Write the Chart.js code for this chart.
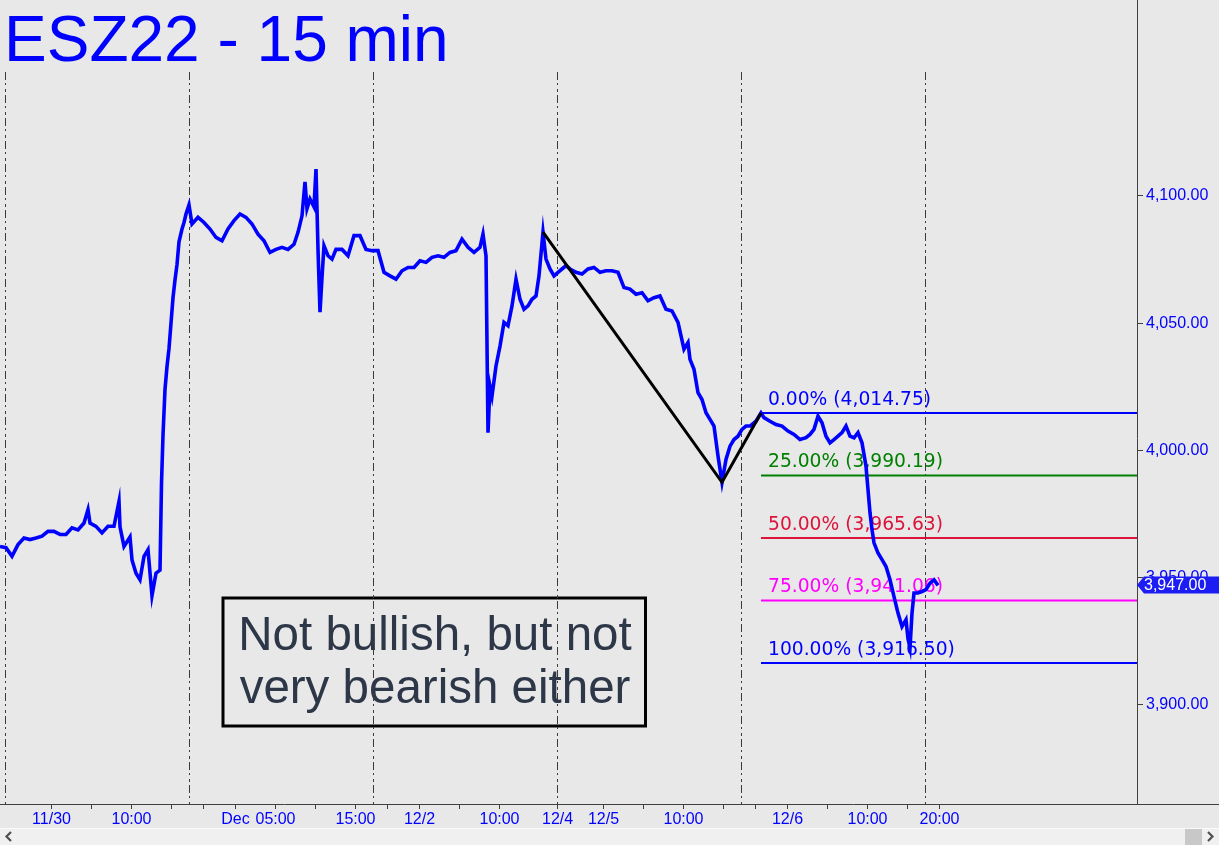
<!DOCTYPE html>
<html>
<head>
<meta charset="utf-8">
<script src="https://cdn.jsdelivr.net/npm/chart.js@4.4.0/dist/chart.umd.min.js"></script>
<style>
  html, body { margin: 0; padding: 0; background: #e8e8e8; overflow: hidden; }
  canvas { display: block; }
</style>
</head>
<body>
<canvas id="c" width="1219" height="845"></canvas>
<script>
// ---- DATA (time axis in 15-minute bars from the left edge) ----
const priceBars = [
  0,3,6,9,12,15,18,21,24,27,
  30,33,36,39,42,44,45,48,51,54,
  57,59.5,60,62,65,66,68,70,72,74,
  76,78,80,80.75,81.5,82.5,83.5,84.5,85.5,86.5,
  87.5,88.5,89.5,91,92,93,94.5,96,99,102,
  105,108,111,114,117,120,123,126,129,132,
  135,138,141,144,147,149,151,152.5,153.5,155,
  157,158,159,160,161,162,164,166,168,171,
  174,177,180,183,186,189,192,195,198,201,
  204,207,210,213,216,219,222,225,228,231,
  234,237,240,241.5,243,244,245,246,248,250,
  252,254,256,258,260,262,264,266,268,269.5,
  271.5,273,275,277,279,281,283,285,288,291,
  294,297,300,303,306,309,312,315,318,321,
  324,327,330,333,336,339,342,344,345,347,
  349,351,353,355,357,359,361,363,365,367,
  369,371,373,375,378,380.5,382,385,388,391,
  394,397,400,403,405,407,409,411,413,415,
  417,419,421,423,425,427,429,431,433,434,
  435,436,437,439,441,443,445,447,449,451,
  453,454,455,456,457,459,461,463,465,467,
  469
];
const prices = [
  3962.3,3961.8,3958.4,3963,3965.6,3965,3965.6,3966.3,3968.2,3968.2,
  3967,3967,3969.6,3968.8,3971.5,3976.8,3971.5,3970.2,3967.6,3970.2,
  3970.2,3980,3970,3962.3,3966,3957,3951.8,3949.2,3958.4,3961,
  3943,3951.8,3953,3987,4006,4024,4033,4040,4050,4060,
  4067,4073,4082,4087,4089.6,4092.9,4096.5,4089,4091.6,4089.6,
  4087,4083.7,4082.4,4087,4090.3,4092.9,4091.6,4089,4085,4082.4,
  4077.8,4079,4079.8,4079,4081,4085.7,4092.2,4105.5,4095,4098.8,
  4095.7,4110.6,4079,4054.3,4068,4080.4,4076.5,4075.2,4079,4079,
  4076.5,4084.4,4084.4,4079,4078.5,4078.5,4070,4068.6,4067.3,4070.6,
  4071.9,4071.9,4074.5,4073.9,4075.9,4076.5,4075.9,4077.8,4078.5,4083,
  4079.8,4077.8,4079.8,4085,4076.5,4007,4025.3,4021.4,4033.2,4041,
  4050.3,4049,4056.8,4067.3,4059.4,4055.5,4056.8,4059.4,4060.7,4068.6,
  4085.75,4075.2,4071.3,4068.6,4070,4071.3,4072.6,4071.3,4070,4069.3,
  4071.3,4071.9,4070,4070.6,4070.6,4070,4064,4063.4,4061.4,4062,
  4058.8,4060,4060.7,4055.5,4054.8,4050.3,4039.8,4042.4,4035.8,4031.9,
  4022.7,4020,4014.8,4012.2,4009.6,3997.8,3987.5,3996.5,4001.7,4004.3,
  4005.6,4008.3,4009.6,4009.6,4011.5,4014.75,4012.9,4011.5,4010.2,4009.6,
  4007.6,4006.3,4004.3,4005,4006.3,4008.3,4013.5,4010.9,4005.6,4003,
  4004.3,4005.6,4007,4009.6,4005.6,4005,4007,4003,3993.8,3984.6,
  3975.5,3968.9,3963.7,3959.7,3957.1,3954.4,3949.2,3942.6,3936.1,3930.8,
  3933.5,3926,3922.5,3936.1,3944,3944,3944.6,3945.3,3947.9,3949.2,
  3947
];
const lastPrice = 3947.00;

// ABC swing (black zig-zag)
const swingBars = [271.5, 361, 380.5];
const swingPrices = [4085.75, 3987.50, 4014.75];

// Fibonacci projection levels
const fibPct = ['0.00%', '25.00%', '50.00%', '75.00%', '100.00%'];
const fibLevels = [4014.75, 3990.19, 3965.63, 3941.06, 3916.50];
const fibColors = ['#0000ff', '#008000', '#dc143c', '#ff00ff', '#0000ff'];
const fibStartBar = 380.5;

// Axis data
const xMinBar = 0, xMaxBar = 568.5;
const yMin = 3861.1, yMax = 4148.7;
const yTicks = [3900, 3950, 4000, 4050, 4100];
const xTickBars = [25.75,45.75,65.75,85.75,101.75,117.75,137.75,157.75,177.75,193.75,209.75,229.75,249.75,278.8,301.75,321.75,341.75,361.75,377.75,393.75,413.75,433.75,453.75,469.75];
const xTickLabels = ['11/30','','10:00','','','Dec','05:00','','15:00','','12/2','','10:00','12/4','12/5','','10:00','','','12/6','','10:00','','20:00'];
const sessionBreaks = [2.5, 94.5, 186.5, 278.5, 370.5, 462.5];

const titleText = 'ESZ22 - 15 min';
const noteLines = ['Not bullish, but not', 'very bearish either'];

// ---- helpers ----
const fmt = v => Number(v).toLocaleString('en-US', {minimumFractionDigits: 2, maximumFractionDigits: 2});
const AXIS = '#404040';
const BLUE = '#0000ff';

const overlay = {
  id: 'overlay',
  beforeDatasetsDraw(chart) {
    const {ctx, chartArea: a, scales: {x, y}} = chart;
    ctx.save();
    // note box
    ctx.strokeStyle = '#000';
    ctx.lineWidth = 3;
    ctx.strokeRect(223, 598, 422.5, 128);
    ctx.fillStyle = '#2d3748';
    ctx.font = '47.5px "Liberation Sans", Arial, sans-serif';
    ctx.textAlign = 'center';
    ctx.textBaseline = 'alphabetic';
    ctx.fillText(noteLines[0], 435, 650);
    ctx.fillText(noteLines[1], 435, 703);
    // session separators
    ctx.strokeStyle = '#3a3a3a';
    ctx.lineWidth = 1;
    ctx.setLineDash([8, 3, 2, 4, 3, 3]);
    sessionBreaks.forEach(b => {
      const px = Math.round(x.getPixelForValue(b)) + 0.5;
      ctx.beginPath(); ctx.moveTo(px, a.top); ctx.lineTo(px, a.bottom); ctx.stroke();
    });
    ctx.setLineDash([]);
    // fib labels
    ctx.font = '18.7px "DejaVu Sans", sans-serif';
    ctx.textAlign = 'left';
    fibLevels.forEach((v, i) => {
      ctx.fillStyle = fibColors[i];
      ctx.fillText(fibPct[i] + ' (' + fmt(v) + ')', x.getPixelForValue(fibStartBar) + 7, y.getPixelForValue(v) - 8);
    });
    ctx.restore();
  },
  afterDraw(chart) {
    const {ctx, chartArea: a, scales: {x, y}} = chart;
    const W = chart.width, H = chart.height;
    ctx.save();
    // axis line extensions
    ctx.strokeStyle = AXIS; ctx.lineWidth = 1;
    ctx.beginPath(); ctx.moveTo(a.right + 0.5, 0); ctx.lineTo(a.right + 0.5, a.top); ctx.stroke();
    ctx.beginPath(); ctx.moveTo(a.right, a.bottom + 0.5); ctx.lineTo(W, a.bottom + 0.5); ctx.stroke();
    // price tag
    const py = Math.round(y.getPixelForValue(lastPrice));
    ctx.fillStyle = '#1c1cf5';
    ctx.beginPath();
    ctx.moveTo(a.right, py);
    ctx.lineTo(a.right + 7, py - 8.5);
    ctx.lineTo(W, py - 8.5);
    ctx.lineTo(W, py + 8.5);
    ctx.lineTo(a.right + 7, py + 8.5);
    ctx.closePath();
    ctx.fill();
    ctx.fillStyle = '#ffffff';
    ctx.font = '16px "Liberation Sans", Arial, sans-serif';
    ctx.textAlign = 'left'; ctx.textBaseline = 'middle';
    ctx.fillText(fmt(lastPrice), a.right + 7, py + 1);
    // scrollbar
    ctx.fillStyle = '#f0f0f0';
    ctx.fillRect(0, 828, W, H - 828);
    ctx.fillStyle = '#fafafa';
    ctx.fillRect(0, 828, W, 1);
    ctx.fillStyle = '#c8c8c8';
    ctx.fillRect(1185, 829, 17, H - 829);
    ctx.strokeStyle = '#505050'; ctx.lineWidth = 2.2;
    ctx.beginPath(); ctx.moveTo(11, 832); ctx.lineTo(6.5, 836.5); ctx.lineTo(11, 841); ctx.stroke();
    ctx.beginPath(); ctx.moveTo(1208, 832); ctx.lineTo(1212.5, 836.5); ctx.lineTo(1208, 841); ctx.stroke();
    // title
    ctx.fillStyle = BLUE;
    ctx.font = '64px "Liberation Sans", Arial, sans-serif';
    ctx.textAlign = 'left'; ctx.textBaseline = 'alphabetic';
    ctx.fillText(titleText, 4, 61);
    ctx.restore();
  }
};

const ctx = document.getElementById('c').getContext('2d');
new Chart(ctx, {
  type: 'line',
  data: {
    datasets: [
      {
        label: 'Swing',
        data: swingBars.map((b, i) => ({x: b, y: swingPrices[i]})),
        borderColor: '#000', borderWidth: 3, pointRadius: 0, tension: 0
      },
      {
        label: 'ESZ22',
        data: priceBars.map((b, i) => ({x: b, y: prices[i]})),
        borderColor: BLUE, borderWidth: 3.6, pointRadius: 0, tension: 0, borderJoinStyle: 'miter'
      },
      ...fibLevels.map((v, i) => ({
        label: fibPct[i],
        data: [{x: fibStartBar, y: v}, {x: xMaxBar, y: v}],
        borderColor: fibColors[i], borderWidth: 2, pointRadius: 0
      }))
    ]
  },
  options: {
    responsive: false,
    animation: false,
    devicePixelRatio: 1,
    layout: { padding: { top: 72, left: 0, right: 0, bottom: 0 } },
    plugins: { legend: { display: false }, tooltip: { enabled: false } },
    scales: {
      x: {
        type: 'linear', position: 'bottom', min: xMinBar, max: xMaxBar,
        afterBuildTicks: s => { s.ticks = xTickBars.map(v => ({value: v})); },
        afterFit: s => { s.height = 41; },
        grid: { drawOnChartArea: false, drawTicks: true, tickLength: 5, tickColor: AXIS, color: AXIS },
        border: { display: true, color: AXIS, width: 1 },
        ticks: {
          autoSkip: false, maxRotation: 0, minRotation: 0, padding: 1,
          color: BLUE, font: { family: '"Liberation Sans", Arial, sans-serif', size: 16 },
          callback: (v, i) => xTickLabels[i]
        }
      },
      y: {
        type: 'linear', position: 'right', min: yMin, max: yMax,
        afterBuildTicks: s => { s.ticks = yTicks.map(v => ({value: v})); },
        afterFit: s => { s.width = 82; },
        grid: { drawOnChartArea: false, drawTicks: true, tickLength: 6, tickColor: AXIS, color: AXIS },
        border: { display: true, color: AXIS, width: 1 },
        ticks: {
          padding: 3, color: BLUE, font: { family: '"Liberation Sans", Arial, sans-serif', size: 16 },
          callback: v => fmt(v)
        }
      }
    }
  },
  plugins: [overlay]
});
</script>
</body>
</html>
